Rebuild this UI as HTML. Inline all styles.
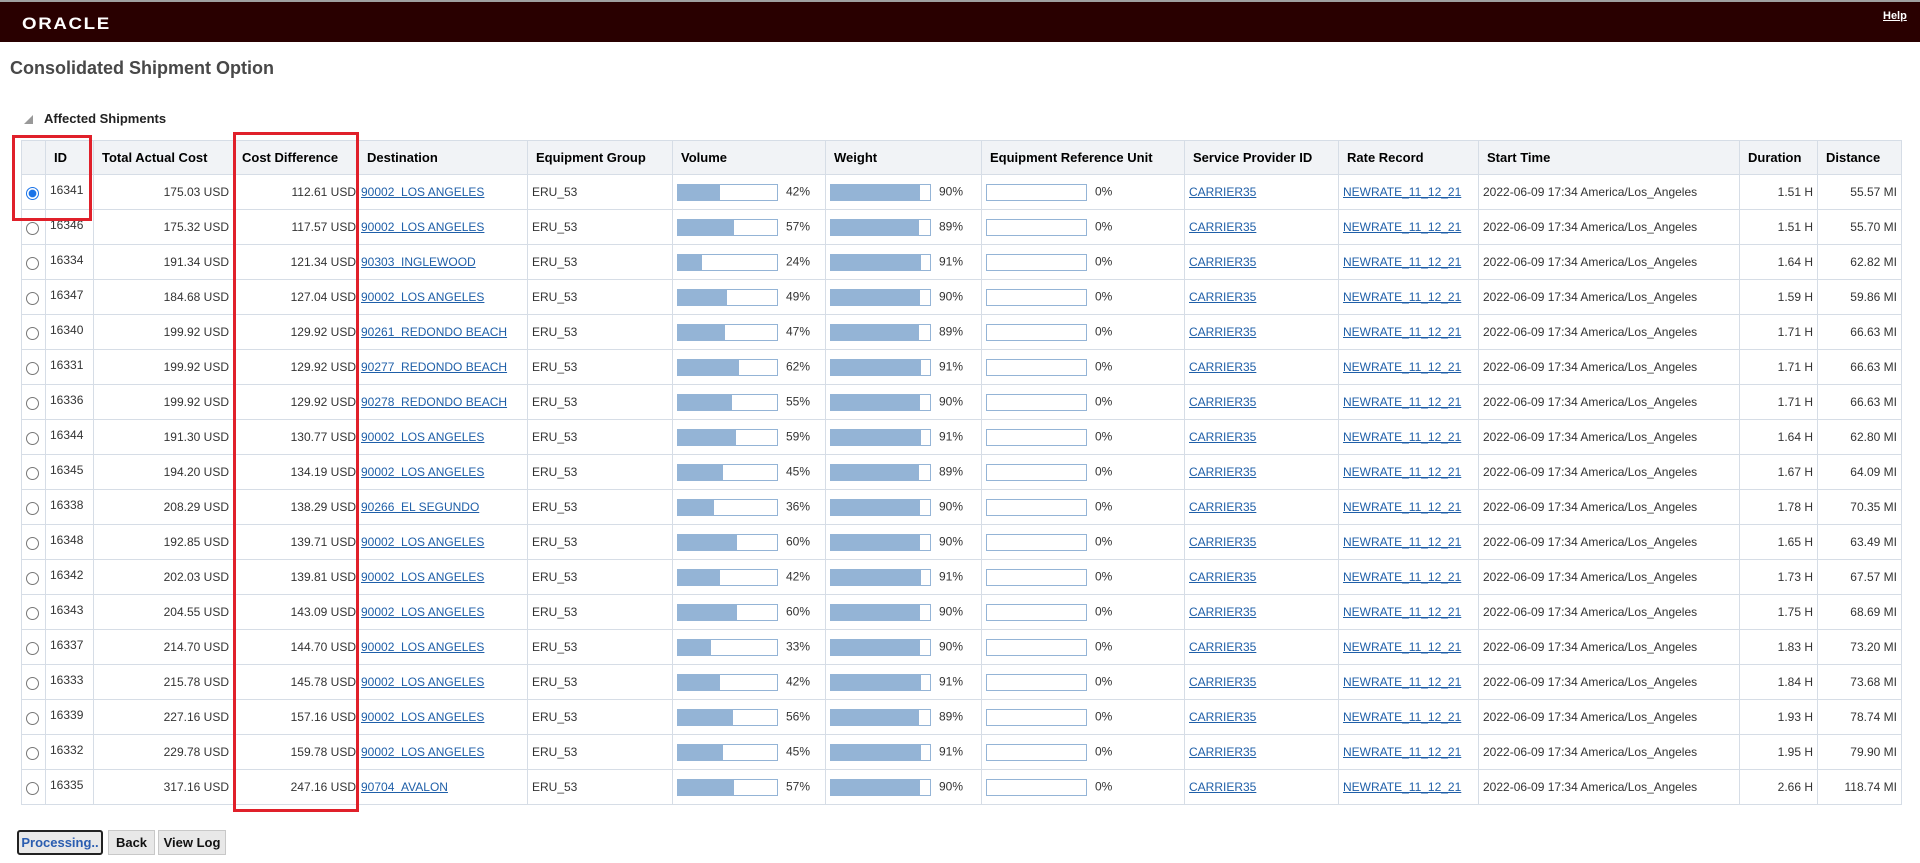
<!DOCTYPE html>
<html><head><meta charset="utf-8">
<style>
*{margin:0;padding:0;box-sizing:border-box}
body{width:1920px;height:863px;background:#fff;font-family:"Liberation Sans",sans-serif;position:relative;overflow:hidden}
.top{position:absolute;left:0;top:0;width:1920px;height:2px;background:#a0a0a0}
.bar{position:absolute;left:0;top:2px;width:1920px;height:40px;background:#290000}
.logo{position:absolute;left:22px;top:12px;color:#fff;font-size:17px;font-weight:bold;letter-spacing:1.5px;transform:scaleX(1.1);transform-origin:left}
.help{position:absolute;left:1883px;top:8px;color:#fff;font-size:11px;text-decoration:underline;font-weight:bold}
h1{position:absolute;left:10px;top:58px;font-size:18px;color:#484848;font-weight:bold}
.sec{position:absolute;left:44px;top:111px;font-size:13px;font-weight:bold;color:#222}
.tri{position:absolute;left:24px;top:115px;width:0;height:0;border-left:9px solid transparent;border-bottom:9px solid #999}
table{position:absolute;left:21px;top:140px;border-collapse:collapse;table-layout:fixed;width:1880px}
td,th{border:1px solid #d6dde6;font-size:12px;color:#333;white-space:nowrap;overflow:hidden}
th{background:#f1f3f6;height:34px;font-size:13px;color:#000;text-align:left;padding-left:8px}
td{height:35px;padding:0 4px;vertical-align:middle}
.r{text-align:right}
a{color:#1f5fa8;text-decoration:underline}
.rad{width:13px;height:13px;border:1px solid #777;border-radius:50%;display:inline-block;margin:6px 0 0 2px;background:#fff}
.rad.on{border-color:#1a73e8;background:radial-gradient(circle,#1a73e8 3.5px,#fff 4.2px)}
.pb{display:inline-block;width:101px;height:17px;border:1px solid #94b4d6;vertical-align:middle;margin-right:8px;background:#fff}
.pb i{display:block;height:100%;background:#94b4d6}
.box{position:absolute;border:3px solid #e0202a}
.btn{position:absolute;top:830px;height:25px;background:#e8e8e8;border:1px solid #c8c8c8;font-size:13px;font-weight:bold;color:#111;text-align:center;line-height:23px}
</style></head><body>
<div class="top"></div><div class="bar"><div class="logo">ORACLE</div><div class="help">Help</div></div>
<h1>Consolidated Shipment Option</h1>
<div class="tri"></div><div class="sec">Affected Shipments</div>
<table>
<colgroup><col style="width:24px"><col style="width:48px"><col style="width:140px"><col style="width:125px"><col style="width:169px"><col style="width:145px"><col style="width:153px"><col style="width:156px"><col style="width:203px"><col style="width:154px"><col style="width:140px"><col style="width:261px"><col style="width:78px"><col style="width:84px"></colgroup>
<tr><th></th><th>ID</th><th>Total Actual Cost</th><th>Cost Difference</th><th>Destination</th><th>Equipment Group</th><th>Volume</th><th>Weight</th><th>Equipment Reference Unit</th><th>Service Provider ID</th><th>Rate Record</th><th>Start Time</th><th>Duration</th><th>Distance</th></tr>
<tbody id="tb"></tbody>
</table>
<script>
var d=[["16341","175.03","112.61","90002  LOS ANGELES",42,90,"1.51","55.57"],
["16346","175.32","117.57","90002  LOS ANGELES",57,89,"1.51","55.70"],
["16334","191.34","121.34","90303  INGLEWOOD",24,91,"1.64","62.82"],
["16347","184.68","127.04","90002  LOS ANGELES",49,90,"1.59","59.86"],
["16340","199.92","129.92","90261  REDONDO BEACH",47,89,"1.71","66.63"],
["16331","199.92","129.92","90277  REDONDO BEACH",62,91,"1.71","66.63"],
["16336","199.92","129.92","90278  REDONDO BEACH",55,90,"1.71","66.63"],
["16344","191.30","130.77","90002  LOS ANGELES",59,91,"1.64","62.80"],
["16345","194.20","134.19","90002  LOS ANGELES",45,89,"1.67","64.09"],
["16338","208.29","138.29","90266  EL SEGUNDO",36,90,"1.78","70.35"],
["16348","192.85","139.71","90002  LOS ANGELES",60,90,"1.65","63.49"],
["16342","202.03","139.81","90002  LOS ANGELES",42,91,"1.73","67.57"],
["16343","204.55","143.09","90002  LOS ANGELES",60,90,"1.75","68.69"],
["16337","214.70","144.70","90002  LOS ANGELES",33,90,"1.83","73.20"],
["16333","215.78","145.78","90002  LOS ANGELES",42,91,"1.84","73.68"],
["16339","227.16","157.16","90002  LOS ANGELES",56,89,"1.93","78.74"],
["16332","229.78","159.78","90002  LOS ANGELES",45,91,"1.95","79.90"],
["16335","317.16","247.16","90704  AVALON",57,90,"2.66","118.74"]];
var h="";
d.forEach(function(r,i){
h+='<tr><td style="padding:0 0 0 2px"><span class="rad'+(i==0?' on':'')+'"></span></td><td style="vertical-align:top;padding-top:8px">'+r[0]+'</td><td class="r">'+r[1]+' USD</td><td class="r" style="padding-right:2px">'+r[2]+' USD</td><td style="padding-left:2px"><a>'+r[3].replace(/  /,'&nbsp;&nbsp;')+'</a></td><td>ERU_53</td>'+
'<td><span class="pb"><i style="width:'+r[4]+'%"></i></span>'+r[4]+'%</td><td><span class="pb"><i style="width:'+r[5]+'%"></i></span>'+r[5]+'%</td><td><span class="pb"></span>0%</td>'+
'<td><a>CARRIER35</a></td><td><a>NEWRATE_11_12_21</a></td><td>2022-06-09 17:34 America/Los_Angeles</td><td class="r">'+r[6]+' H</td><td class="r">'+r[7]+' MI</td></tr>';});
document.getElementById("tb").innerHTML=h;
</script>
<div class="box" style="left:12px;top:135px;width:80px;height:86px"></div>
<div class="box" style="left:233px;top:132px;width:126px;height:680px"></div>
<div class="btn" style="left:17px;width:86px;border:2px solid #222;border-radius:3px;color:#2a5db0;line-height:21px">Processing..</div>
<div class="btn" style="left:108px;width:47px">Back</div>
<div class="btn" style="left:158px;width:68px">View Log</div>
</body></html>
